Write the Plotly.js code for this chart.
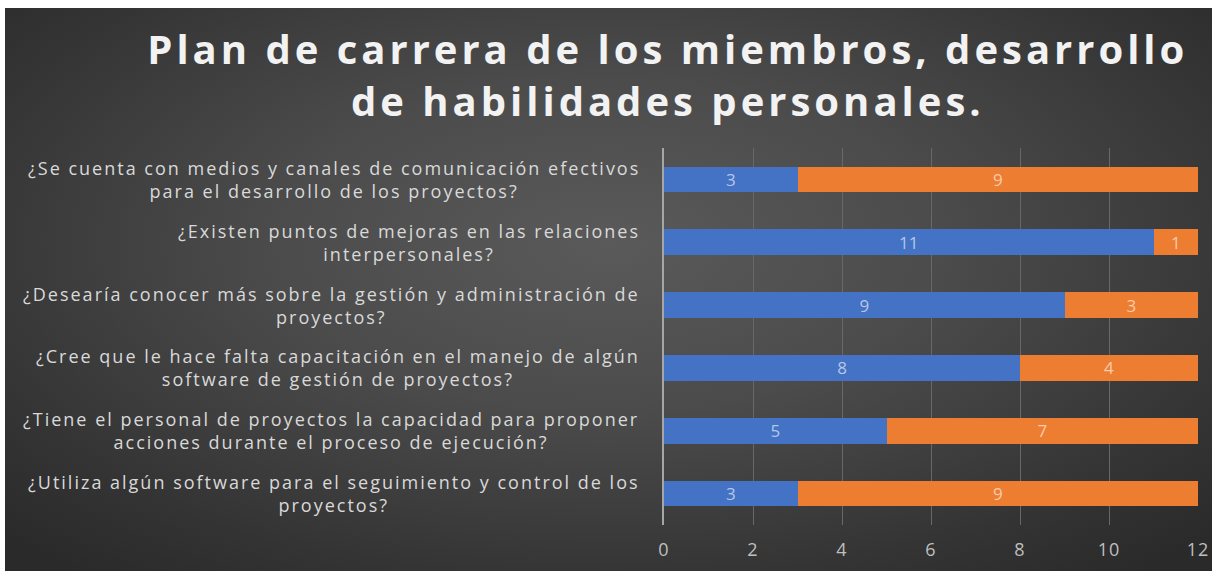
<!DOCTYPE html>
<html>
<head>
<meta charset="utf-8">
<script src="https://cdn.plot.ly/plotly-3.0.1.min.js"></script>
<style>
  html, body { margin: 0; padding: 0; background: #ffffff; }
  #bg { position: absolute; left: 5px; top: 8px; width: 1207px; height: 563px;
        background: radial-gradient(ellipse 70% 75% at 50% 42%, #5a5a5a 0%, #4b4b4b 40%, #343434 80%, #2a2a2a 100%); }
  #chart { position: absolute; left: 0; top: 0; width: 1212px; height: 571px; }
  #chart .gtitle { letter-spacing: 4px; }
  #chart .annotation-text { letter-spacing: 2px; }
  #chart .xtick text { letter-spacing: 1px; }
</style>
</head>
<body>
<div id="bg"></div>
<div id="chart"></div>
<script>
// Categories (bottom to top as drawn)
const categories = [
  "¿Utiliza algún software para el seguimiento y control de los<br>proyectos?",
  "¿Tiene el personal de proyectos la capacidad para proponer<br>acciones durante el proceso de ejecución?",
  "¿Cree que le hace falta capacitación en el manejo de algún<br>software de gestión de proyectos?",
  "¿Desearía conocer más sobre la gestión y administración de<br>proyectos?",
  "¿Existen puntos de mejoras en las relaciones<br>interpersonales?",
  "¿Se cuenta con medios y canales de comunicación efectivos<br>para el desarrollo de los proyectos?"
];
const seriesBlue = [3, 5, 8, 9, 11, 3];
const seriesOrange = [9, 7, 4, 3, 1, 9];
const xTicks = [0, 2, 4, 6, 8, 10, 12];
const titleText = "Plan de carrera de los miembros, desarrollo<br>de habilidades personales.";

const LABEL_SPACING = 2; // matches CSS letter-spacing on annotation text

const traces = [
  {
    type: "bar", orientation: "h", y: categories, x: seriesBlue,
    marker: { color: "#4472C4" }, width: 0.41,
    text: seriesBlue.map(String), textposition: "inside", insidetextanchor: "middle",
    textangle: 0, constraintext: "none",
    textfont: { color: "#b4c7e7", size: 17, family: "Open Sans" },
    hoverinfo: "x+y", showlegend: false
  },
  {
    type: "bar", orientation: "h", y: categories, x: seriesOrange,
    marker: { color: "#ED7D31" }, width: 0.41,
    text: seriesOrange.map(String), textposition: "inside", insidetextanchor: "middle",
    textangle: 0, constraintext: "none",
    textfont: { color: "#f8cbad", size: 17, family: "Open Sans" },
    hoverinfo: "x+y", showlegend: false
  }
];

const annotations = categories.map(c => {
  const longest = Math.max(...c.split("<br>").map(s => s.length));
  return {
    xref: "paper", yref: "y", x: 0, y: c, xanchor: "right", yanchor: "middle",
    xshift: -22 - longest * LABEL_SPACING / 2, text: c, showarrow: false, align: "center",
    font: { family: "Open Sans", size: 18, color: "#d9d9d9" }
  };
});

const layout = {
  width: 1212, height: 571,
  paper_bgcolor: "rgba(0,0,0,0)", plot_bgcolor: "rgba(0,0,0,0)",
  margin: { l: 664, r: 14, t: 148, b: 46 },
  barmode: "stack",
  title: {
    text: titleText, x: 0.551, xanchor: "center", yref: "container", y: 0.888, yanchor: "middle",
    font: { family: "Open Sans", size: 40, color: "#f2f2f2", weight: 700 }
  },
  xaxis: {
    range: [0, 12], tickvals: xTicks, ticktext: xTicks.map(String),
    showgrid: true, gridcolor: "#686868", gridwidth: 1,
    zeroline: false, showline: false, ticks: "", ticklabelstandoff: 12,
    tickfont: { family: "Open Sans", size: 18, color: "#bfbfbf" }
  },
  yaxis: {
    categoryorder: "array", categoryarray: categories,
    showticklabels: false, showgrid: false, zeroline: false,
    showline: true, linecolor: "#a6a6a6", linewidth: 2, ticks: ""
  },
  annotations: annotations
};

Plotly.newPlot("chart", traces, layout, { displayModeBar: false, staticPlot: true });
</script>
</body>
</html>
